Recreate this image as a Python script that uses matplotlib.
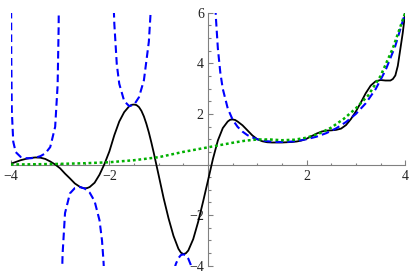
import matplotlib
matplotlib.use('Agg')
import matplotlib.pyplot as plt
from matplotlib.ticker import MultipleLocator

plt.rcParams['font.family'] = ['Liberation Serif', 'DejaVu Serif']
plt.rcParams['lines.scale_dashes'] = False

# solid black curve
black_x = [-4.0, -3.9, -3.8, -3.7, -3.6, -3.5, -3.4, -3.3, -3.2, -3.1, -3.0,
           -2.9, -2.8, -2.7, -2.6, -2.55, -2.5, -2.45, -2.4, -2.3, -2.2, -2.1, -2.0,
           -1.9, -1.8, -1.7, -1.6, -1.55, -1.5, -1.45, -1.4, -1.35, -1.3, -1.25,
           -1.2, -1.15, -1.1, -1.0,
           -0.9, -0.8, -0.7, -0.6, -0.55, -0.5, -0.45, -0.4, -0.3, -0.2, -0.1, 0.0,
           0.1, 0.2, 0.3, 0.4, 0.45, 0.5, 0.55, 0.6, 0.7, 0.8, 0.9, 1.0,
           1.1, 1.2, 1.3, 1.4, 1.5, 1.6, 1.7, 1.8, 1.9, 2.0,
           2.1, 2.2, 2.3, 2.4, 2.5, 2.6, 2.7, 2.8, 2.9, 3.0,
           3.1, 3.2, 3.3, 3.4, 3.5, 3.6, 3.7, 3.75, 3.8, 3.85, 3.9, 3.95, 4.0]
black_y = [0.03, 0.10, 0.17, 0.22, 0.26, 0.28, 0.27, 0.22, 0.12, 0.0, -0.15,
           -0.36, -0.55, -0.75, -0.88, -0.92, -0.94, -0.93, -0.89, -0.72, -0.40, 0.02, 0.52,
           1.16, 1.70, 2.07, 2.30, 2.36, 2.37, 2.35, 2.27, 2.12, 1.90, 1.61,
           1.27, 0.88, 0.46, -0.43,
           -1.33, -2.13, -2.82, -3.33, -3.48, -3.54, -3.51, -3.40, -2.95, -2.27, -1.47, -0.63,
           0.22, 0.95, 1.44, 1.70, 1.77, 1.78, 1.76, 1.70, 1.55, 1.35, 1.15, 1.00,
           0.92, 0.88, 0.87, 0.87, 0.87, 0.88, 0.89, 0.91, 0.95, 1.02,
           1.12, 1.22, 1.30, 1.34, 1.35, 1.37, 1.42, 1.56, 1.80, 2.10,
           2.45, 2.82, 3.12, 3.29, 3.34, 3.32, 3.32, 3.38, 3.52, 3.90, 4.55, 5.20, 6.0]

# dashed blue curve, one list per branch between the poles
blue_x1 = [-3.994, -3.99, -3.98, -3.95, -3.9, -3.8, -3.7, -3.6, -3.5, -3.4,
           -3.3, -3.2, -3.1, -3.05, -3.03, -3.025]
blue_y1 = [7.01, 4.23, 2.15, 0.90, 0.49, 0.30, 0.25, 0.247, 0.27, 0.33,
           0.44, 0.69, 1.49, 3.14, 5.36, 6.47]
blue_x2 = [-2.96, -2.95, -2.9, -2.8, -2.7, -2.6, -2.5, -2.4, -2.3, -2.2,
           -2.15, -2.12, -2.11]
blue_y2 = [-4.39, -3.56, -1.92, -1.14, -0.93, -0.89, -0.95, -1.11, -1.45, -2.21,
           -3.00, -3.81, -4.18]
blue_x3 = [-1.91, -1.9, -1.85, -1.8, -1.7, -1.6, -1.5, -1.4, -1.3, -1.2, -1.15]
blue_y3 = [6.11, 5.56, 3.96, 3.19, 2.51, 2.31, 2.36, 2.66, 3.33, 4.85, 6.45]
blue_x4 = [-0.68, -0.65, -0.6, -0.55, -0.5, -0.45, -0.4, -0.35, -0.32, -0.3]
blue_y4 = [-4.11, -3.92, -3.70, -3.58, -3.55, -3.59, -3.72, -3.96, -4.16, -4.33]
blue_x5 = [0.15, 0.16, 0.2, 0.25, 0.3, 0.4, 0.5, 0.6, 0.7, 0.8, 0.9, 1.0,
           1.2, 1.4, 1.6, 1.8, 2.0, 2.2, 2.4, 2.6, 2.8, 3.0,
           3.2, 3.4, 3.6, 3.8, 4.0]
blue_y5 = [6.22, 5.81, 4.59, 3.63, 2.99, 2.22, 1.77, 1.49, 1.30, 1.16, 1.07, 1.00,
           0.92, 0.89, 0.89, 0.93, 1.00, 1.10, 1.24, 1.43, 1.68, 2.00,
           2.42, 2.98, 3.72, 4.69, 6.00]

# dotted green curve
green_x = [-4.0, -3.5, -3.0, -2.5, -2.0, -1.5, -1.0, -0.5, 0.0, 0.25, 0.5, 0.75,
           1.0, 1.25, 1.5, 1.75, 2.0, 2.25, 2.5, 2.75, 3.0, 3.25, 3.5, 3.75, 4.0]
green_y = [0.0, 0.01, 0.025, 0.05, 0.09, 0.17, 0.29, 0.50, 0.68, 0.77, 0.86, 0.94,
           0.99, 0.99, 0.96, 0.98, 1.06, 1.22, 1.46, 1.80, 2.22, 2.73, 3.50, 4.60, 6.0]

x_ticks = [-4, -2, 2, 4]
x_tick_labels = ['\u22124', '\u22122', '2', '4']
y_ticks = [-4, -2, 2, 4, 6]
y_tick_labels = ['\u22124', '\u22122', '2', '4', '6']

fig = plt.figure(figsize=(4.15, 2.8), dpi=100)
ax = fig.add_axes([0.026, 0.051, 0.9504, 0.9036])

ax.plot(black_x, black_y, color='black', lw=1.3, zorder=3)
for bx, by in [(blue_x1, blue_y1), (blue_x2, blue_y2), (blue_x3, blue_y3),
               (blue_x4, blue_y4), (blue_x5, blue_y5)]:
    ax.plot(bx, by, color='#0000ff', lw=1.5, ls=(0, (5.5, 3)), zorder=4)
ax.plot(green_x, green_y, color='#00b000', lw=1.8, ls=(0, (2, 2)),
        dash_capstyle='butt', zorder=5)

ax.set_xlim(-4, 4)
ax.set_ylim(-4, 6)

for s in ['top', 'right']:
    ax.spines[s].set_visible(False)
for s in ['left', 'bottom']:
    ax.spines[s].set_position('zero')
    ax.spines[s].set_color('#808080')
    ax.spines[s].set_linewidth(0.8)

ax.set_xticks(x_ticks, labels=x_tick_labels)
ax.set_yticks(y_ticks, labels=y_tick_labels)
ax.xaxis.set_minor_locator(MultipleLocator(0.5))
ax.yaxis.set_minor_locator(MultipleLocator(0.5))
ax.tick_params(which='both', direction='in', color='#808080', width=0.8,
               labelsize=10, labelcolor='#222222')
ax.tick_params(which='major', length=3.5)
ax.tick_params(which='minor', length=1.8)
ax.tick_params(axis='x', pad=4)
ax.tick_params(axis='y', pad=3)
ax.patch.set_visible(False)

fig.savefig('out.png', dpi=100)
